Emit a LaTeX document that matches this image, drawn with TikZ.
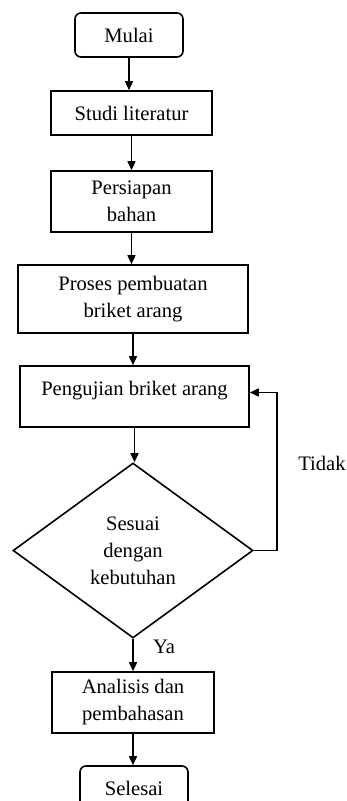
\documentclass[tikz,border=0pt]{standalone}
\usepackage{fontspec}
\setmainfont{Liberation Serif}
\usetikzlibrary{shapes.geometric,arrows.meta}
\begin{document}
\begin{tikzpicture}[x=0.5pt,y=-0.5pt,font=\fontsize{10.3}{13.5}\selectfont,
  box/.style={draw,line width=0.8pt,align=center,inner sep=1pt},
  term/.style={box,rounded corners=3pt,minimum width=54pt,minimum height=22pt},
  dec/.style={draw,line width=0.8pt,diamond,align=center,inner sep=0pt,
    minimum width=120pt,minimum height=87.5pt},
  arr/.style={line width=0.8pt,-{Triangle[length=4.5pt,width=4pt]}}]
  \useasboundingbox (0,0) rectangle (347,801);
  % process column
  \node[term] (mulai) at (129,35) {Mulai};
  \node[box,minimum width=80.5pt,minimum height=22pt] (studi) at (131.5,113) {Studi literatur};
  \node[box,minimum width=80.5pt,minimum height=30.5pt] (siap) at (131.5,201.5) {Persiapan\\bahan};
  \node[box,minimum width=115pt,minimum height=34pt] (proses) at (133,299) {Proses pembuatan\\briket arang};
  \node[box,minimum width=114.5pt,minimum height=30.5pt] (uji) at (134.5,396.5) {\raisebox{8pt}{Pengujian briket arang}};
  \node[dec] (cek) at (133,550.5) {Sesuai\\dengan\\kebutuhan};
  \node[box,minimum width=81pt,minimum height=30.5pt] (analisis) at (133,702.5) {Analisis dan\\pembahasan};
  \node[term] (selesai) at (134,788) {Selesai};
  \foreach \a/\b in {mulai/studi,studi/siap,siap/proses,proses/uji,uji/cek,cek/analisis,analisis/selesai}
    \draw[arr] (\a.south) -- (\a.south |- \b.north);
  % loop back
  \draw[arr] (cek.east) -- ++(23,0) |- ([yshift=2pt]uji.east);
  \node (tidak) at (322,463) {Tidak};
  \node (ya) at (164,647) {Ya};
\end{tikzpicture}
\end{document}
